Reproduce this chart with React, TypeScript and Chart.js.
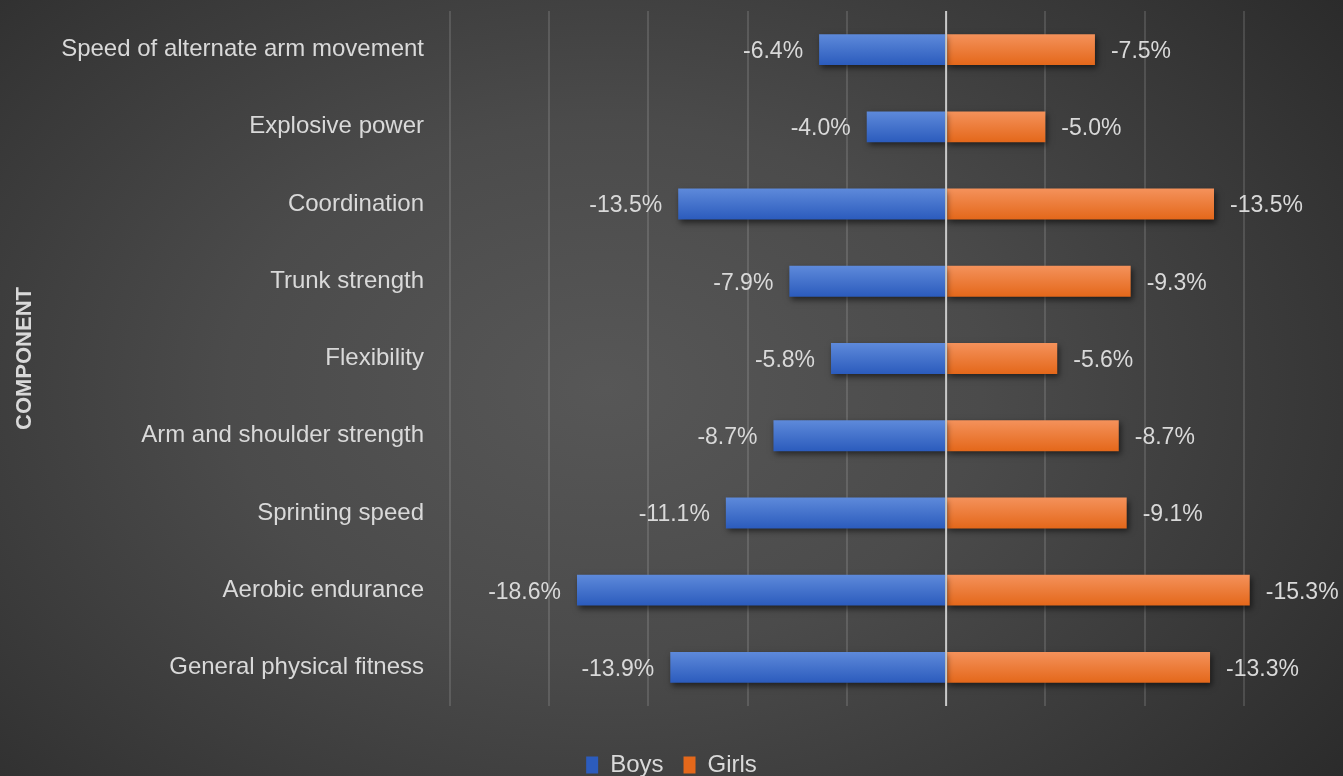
import React, { useEffect, useRef } from "react";
import { Chart, registerables } from "chart.js";

Chart.register(...registerables);

const categories = [
  "Speed of alternate arm movement",
  "Explosive power",
  "Coordination",
  "Trunk strength",
  "Flexibility",
  "Arm and shoulder strength",
  "Sprinting speed",
  "Aerobic endurance",
  "General physical fitness",
];
const boysChange = [-6.4, -4.0, -13.5, -7.9, -5.8, -8.7, -11.1, -18.6, -13.9];
const girlsChange = [-7.5, -5.0, -13.5, -9.3, -5.6, -8.7, -9.1, -15.3, -13.3];
const seriesNames = ["Boys", "Girls"];
const axisTitle = "COMPONENT";
const axisMin = -25;
const axisMax = 20;
const lastGridValue = 15;
const axisStep = 5;

const TEXT = "#d9d9d9";
const FONT = "'Liberation Sans', Arial, sans-serif";

function barGradient(c: any, top: string, bottom: string, base: string) {
  if (c.type !== "data") return base;
  const chart = c.chart;
  const ys = chart.scales && chart.scales.y;
  if (!ys) return base;
  const yc = ys.getPixelForValue(c.dataIndex);
  if (!isFinite(yc)) return base;
  const g = chart.ctx.createLinearGradient(0, yc - 15, 0, yc + 15);
  g.addColorStop(0, top);
  g.addColorStop(1, bottom);
  return g;
}

const shadowPlugin = {
  id: "barShadow",
  beforeDatasetDraw(chart: any) {
    const ctx = chart.ctx;
    ctx.save();
    ctx.shadowColor = "rgba(0,0,0,0.55)";
    ctx.shadowBlur = 6;
    ctx.shadowOffsetX = 2;
    ctx.shadowOffsetY = 3;
  },
  afterDatasetDraw(chart: any) {
    chart.ctx.restore();
  },
};

const zeroLinePlugin = {
  id: "zeroLine",
  afterDatasetsDraw(chart: any) {
    const { ctx, chartArea, scales } = chart;
    const x0 = scales.x.getPixelForValue(0);
    ctx.save();
    ctx.strokeStyle = "#c9c9c9";
    ctx.lineWidth = 2;
    ctx.beginPath();
    ctx.moveTo(x0, chartArea.top);
    ctx.lineTo(x0, chartArea.bottom);
    ctx.stroke();
    ctx.restore();
  },
};

const labelPlugin = {
  id: "valueLabels",
  afterDatasetsDraw(chart: any) {
    const ctx = chart.ctx;
    ctx.save();
    ctx.font = `23px ${FONT}`;
    ctx.fillStyle = TEXT;
    ctx.textBaseline = "middle";
    const sources = [boysChange, girlsChange];
    chart.data.datasets.forEach((ds: any, di: number) => {
      const meta = chart.getDatasetMeta(di);
      meta.data.forEach((bar: any, i: number) => {
        const txt = sources[di][i].toFixed(1) + "%";
        if (di === 0) {
          ctx.textAlign = "right";
          ctx.fillText(txt, bar.x - 16, bar.y + 2);
        } else {
          ctx.textAlign = "left";
          ctx.fillText(txt, bar.x + 16, bar.y + 2);
        }
      });
    });
    ctx.restore();
  },
};

export default function App() {
  const ref = useRef<HTMLCanvasElement>(null);
  useEffect(() => {
    document.body.style.margin = "0";
    const canvas = ref.current!;
    const chart = new Chart(canvas, {
      type: "bar",
      data: {
        labels: categories,
        datasets: [
          {
            label: seriesNames[0],
            data: boysChange,
            backgroundColor: (c: any) => barGradient(c, "#5d89da", "#2c5cbd", "#4472c4"),
            borderWidth: 0,
          },
          {
            label: seriesNames[1],
            data: girlsChange.map((v) => -v),
            backgroundColor: (c: any) => barGradient(c, "#f4915a", "#e4681b", "#ed7d31"),
            borderWidth: 0,
          },
        ],
      },
      options: {
        indexAxis: "y",
        responsive: false,
        maintainAspectRatio: false,
        animation: false,
        datasets: { bar: { categoryPercentage: 1, barPercentage: 0.4 } } as any,
        layout: { padding: { top: 11, right: 0, left: 0, bottom: -11 } },
        scales: {
          x: {
            stacked: true,
            min: axisMin,
            max: axisMax,
            ticks: { display: false, stepSize: axisStep },
            grid: {
              color: (c: any) =>
                c.tick && c.tick.value > lastGridValue ? "rgba(0,0,0,0)" : "rgba(255,255,255,0.13)",
              lineWidth: 2,
              drawTicks: false,
            },
            border: { display: false },
            afterFit: (s: any) => {
              s.height = 27;
              s.paddingLeft = 0;
              s.paddingRight = 0;
            },
          },
          y: {
            stacked: true,
            ticks: { color: TEXT, font: { family: FONT, size: 24 }, padding: 26 },
            grid: { display: false, drawTicks: false },
            border: { display: false },
            title: {
              display: true,
              text: axisTitle,
              color: TEXT,
              font: { family: FONT, size: 22, weight: "bold" },
              padding: { top: 12, bottom: 0 },
            },
            afterFit: (s: any) => {
              s.width = 450;
              s.paddingTop = 0;
              s.paddingBottom = 0;
            },
          },
        },
        plugins: {
          legend: {
            position: "bottom",
            labels: {
              color: TEXT,
              font: { family: FONT, size: 24 },
              boxWidth: 12,
              boxHeight: 17,
              padding: 20,
            },
          },
          tooltip: { enabled: false },
        },
      },
      plugins: [shadowPlugin, zeroLinePlugin, labelPlugin],
    });
    return () => chart.destroy();
  }, []);
  return (
    <div
      style={{
        width: 1343,
        height: 776,
        background:
          "radial-gradient(ellipse 70% 85% at 45% 50%, #575757 0%, #4b4b4b 40%, #383838 75%, #2a2a2a 100%)",
      }}
    >
      <canvas ref={ref} width={1343} height={776} style={{ display: "block" }} />
    </div>
  );
}
